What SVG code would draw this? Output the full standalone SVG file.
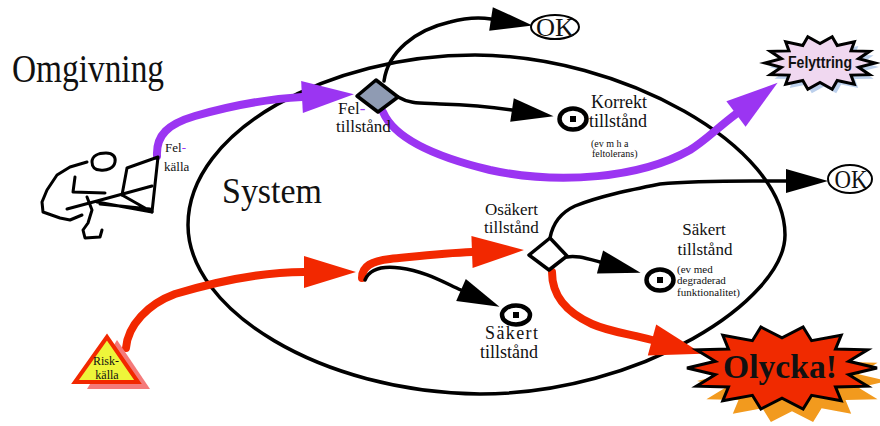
<svg xmlns="http://www.w3.org/2000/svg" width="880" height="426" viewBox="0 0 880 426">
  <style>
    .serif { font-family: "Liberation Serif", "Times New Roman", serif; fill: #111; }
    .sans { font-family: "Liberation Sans", Arial, sans-serif; fill: #111; }
    .line { fill: none; stroke: #000; stroke-width: 3.5; stroke-linecap: round; stroke-linejoin: round; }
    .purple { fill: none; stroke: #9b35f2; stroke-width: 8; stroke-linecap: round; stroke-linejoin: round; }
    .red { fill: none; stroke: #f22800; stroke-width: 8; stroke-linecap: round; stroke-linejoin: round; }
    .ring { fill: #fff; stroke: #000; stroke-width: 4.5; }
    .fig { fill: none; stroke: #000; stroke-width: 3; stroke-linecap: round; stroke-linejoin: round; }
    .ok { fill: #fff; stroke: #000; stroke-width: 2; }
    .burst { stroke: #000; stroke-width: 3; stroke-linejoin: miter; }
  </style>
  <defs>
    <marker id="arrBlack" markerUnits="userSpaceOnUse" markerWidth="44" markerHeight="26" refX="0" refY="12" orient="auto" overflow="visible">
      <path d="M0,0 L42,12 L0,24 z" fill="#000"/>
    </marker>
    <marker id="arrPurple" markerUnits="userSpaceOnUse" markerWidth="54" markerHeight="34" refX="0" refY="16" orient="auto" overflow="visible">
      <path d="M0,0 L52,16 L0,32 z" fill="#9b35f2"/>
    </marker>
    <marker id="arrRed" markerUnits="userSpaceOnUse" markerWidth="54" markerHeight="34" refX="0" refY="16" orient="auto" overflow="visible">
      <path d="M0,0 L52,16 L0,32 z" fill="#f22800"/>
    </marker>
  </defs>

  <rect width="880" height="426" fill="#fff"/>

  <!-- environment and system boundary -->
  <text id="omgivning" class="serif" x="12" y="82" font-size="40" textLength="152" lengthAdjust="spacingAndGlyphs">Omgivning</text>
  <g id="system">
    <path d="M475,55 C620,55 785,145 785,235 C785,300 640,394 480,394 C320,392 188,310 188,225 C188,130 330,55 475,55 Z" fill="none" stroke="#000" stroke-width="3.5"/>
    <text class="serif" x="222" y="203" font-size="35" textLength="100" lengthAdjust="spacingAndGlyphs">System</text>
  </g>

  <!-- connectors -->
  <g id="connectors">
    <path class="purple" d="M157,156 C156,135 168,124 195,116 C230,106 265,99 302,97" marker-end="url(#arrPurple)"/>
    <path class="purple" d="M383,112 C395,140 440,158 490,170 C560,185 640,178 690,150 C705,141 716,129 736,114" marker-end="url(#arrPurple)"/>
    <path class="line" d="M384,81 C388,52 415,30 450,22 C465,18 478,17 491,19" marker-end="url(#arrBlack)"/>
    <path class="line" d="M398,97 C410,104 420,103 440,104 C470,105 492,107 512,110" marker-end="url(#arrBlack)"/>
    <path class="red" d="M126,348 C128,325 148,304 175,294 C215,282 260,272 304,272" marker-end="url(#arrRed)"/>
    <path class="red" d="M362,278 C362,266 372,261 390,259 C420,256 445,253 472,252" marker-end="url(#arrRed)"/>
    <path class="line" d="M365,280 C370,268 385,266 400,268 C425,271 445,283 461,290" marker-end="url(#arrBlack)"/>
    <path class="line" d="M550,238 C553,222 562,212 575,206 C600,196 630,190 660,184 C700,180 740,181 786,181" marker-end="url(#arrBlack)"/>
    <path class="line" d="M567,257 C575,255 585,258 600,262" marker-end="url(#arrBlack)"/>
    <path class="red" d="M552,272 C552,296 566,312 592,324 C610,332 630,334 652,340" marker-end="url(#arrRed)"/>
  </g>

  <!-- error source: person at a computer -->
  <g id="felkalla">
    <path class="fig" d="M92,162 C92,156 98,153 106,153 C113,153 116,157 115,162 C114,168 107,171 100,170 C95,170 92,167 92,162 Z"/>
    <path class="fig" d="M87,162 L70,167 L57,175 L47,190 L42,202 L43,212 L60,218 L70,220 L82,215"/>
    <path class="fig" d="M75,177 L73,192 L105,193"/>
    <path class="fig" d="M67,209 L97,201 L152,186"/>
    <path class="fig" d="M127,168 L158,157 L152,212 M127,168 L122,195"/>
    <path class="fig" d="M97,202 L152,212 M122,195 L152,212 M100,204 L150,209"/>
    <path class="fig" d="M87,197 L92,210 L88,223 L83,230 L85,238 L100,237 L102,230"/>
    <text class="serif" x="165" y="152" font-size="13">Fel<tspan fill="#9b35f2">-</tspan></text>
    <text class="serif" x="164" y="171" font-size="13">källa</text>
  </g>

  <!-- hazard source -->
  <g id="riskkalla">
    <polygon points="117,340 87,389 150,389" fill="#f47a7a"/>
    <polygon points="107,337 75,382 138,382" fill="#eef53a" stroke="#f22800" stroke-width="4"/>
    <text class="serif" x="106" y="365" font-size="12" text-anchor="middle">Risk-</text>
    <text class="serif" x="107" y="379" font-size="12" text-anchor="middle">källa</text>
  </g>

  <!-- faulty state -->
  <g id="feltillstand">
    <polygon points="357,96 376,80 398,97 378,112" fill="#8f9bb3" stroke="#000" stroke-width="3.5" stroke-linejoin="round"/>
    <text class="serif" x="338" y="114" font-size="17">Fel<tspan fill="#9b35f2">-</tspan></text>
    <text class="serif" x="336" y="132" font-size="17">tillstånd</text>
  </g>

  <!-- correct state -->
  <g id="korrekt">
    <ellipse class="ring" cx="573" cy="119" rx="13.5" ry="10.5"/>
    <rect x="570" y="116" width="6" height="6" fill="#000"/>
    <text class="serif" x="591" y="108" font-size="18">Korrekt</text>
    <text class="serif" x="589" y="127" font-size="18">tillstånd</text>
    <text class="serif" x="591" y="147" font-size="10">(ev m h a</text>
    <text class="serif" x="592" y="157" font-size="10">feltolerans)</text>
  </g>

  <!-- unsafe state -->
  <g id="osakert">
    <polygon points="529,255 550,238 567,256 549,270" fill="#fff" stroke="#000" stroke-width="3.5" stroke-linejoin="round"/>
    <text class="serif" x="485" y="215" font-size="17">Osäkert</text>
    <text class="serif" x="484" y="233" font-size="17">tillstånd</text>
  </g>

  <!-- safe state (degraded) -->
  <g id="sakert-degraderat">
    <ellipse class="ring" cx="660" cy="280" rx="13.5" ry="10.5"/>
    <rect x="657" y="277" width="6" height="6" fill="#000"/>
    <text class="serif" x="704" y="235" font-size="17" text-anchor="middle">Säkert</text>
    <text class="serif" x="705" y="255" font-size="17" text-anchor="middle">tillstånd</text>
    <text class="serif" x="677" y="273" font-size="11">(ev med</text>
    <text class="serif" x="677" y="284" font-size="11">degraderad</text>
    <text class="serif" x="677" y="296" font-size="11">funktionalitet)</text>
  </g>

  <!-- safe state -->
  <g id="sakert">
    <ellipse class="ring" cx="516" cy="315" rx="14" ry="9.5"/>
    <rect x="513" y="312" width="6" height="6" fill="#000"/>
    <text class="serif" x="485" y="339" font-size="18" textLength="53" lengthAdjust="spacing">Säkert</text>
    <text class="serif" x="480" y="358" font-size="18">tillstånd</text>
  </g>

  <!-- OK outcomes -->
  <g id="ok-top">
    <ellipse class="ok" cx="555" cy="27" rx="24" ry="12"/>
    <text class="serif" x="555" y="36" font-size="25" text-anchor="middle" textLength="38" lengthAdjust="spacingAndGlyphs">OK</text>
  </g>
  <g id="ok-right">
    <ellipse class="ok" cx="850" cy="179" rx="22" ry="14"/>
    <text class="serif" x="851" y="188" font-size="25" text-anchor="middle" textLength="33" lengthAdjust="spacingAndGlyphs">OK</text>
  </g>

  <!-- failure outcome -->
  <g id="felyttring">
    <polygon transform="translate(4,4)" fill="#bcd0ec" points="875,63 858.6,67.3 869.6,74.7 851,75.1 854.3,84.1 837.2,80.5 832.2,89.3 820,82.4 807.8,89.3 802.8,80.5 785.7,84.1 789,75.1 770.4,74.7 781.4,67.3 765,63 781.4,58.7 770.4,51.3 789,50.9 785.7,41.9 802.8,45.5 807.8,36.7 820,43.6 832.2,36.7 837.2,45.5 854.3,41.9 851,50.9 869.6,51.3 858.6,58.7"/>
    <polygon class="burst" fill="#f0d8f0" points="875,63 858.6,67.3 869.6,74.7 851,75.1 854.3,84.1 837.2,80.5 832.2,89.3 820,82.4 807.8,89.3 802.8,80.5 785.7,84.1 789,75.1 770.4,74.7 781.4,67.3 765,63 781.4,58.7 770.4,51.3 789,50.9 785.7,41.9 802.8,45.5 807.8,36.7 820,43.6 832.2,36.7 837.2,45.5 854.3,41.9 851,50.9 869.6,51.3 858.6,58.7"/>
    <text class="sans" x="820" y="68" font-size="17" font-weight="bold" text-anchor="middle" textLength="64" lengthAdjust="spacingAndGlyphs">Felyttring</text>
  </g>

  <!-- accident outcome -->
  <g id="olycka">
    <polygon transform="translate(10,13)" fill="#f29a1e" points="877,368 848.7,374.7 867.6,386.2 835.5,386.9 841.2,400.8 811.6,395.3 803.1,409 782,398.2 760.9,409 752.4,395.3 722.8,400.8 728.5,386.9 696.4,386.2 715.3,374.7 687,368 715.3,361.3 696.4,349.8 728.5,349.1 722.8,335.2 752.4,340.7 760.9,327 782,337.8 803.1,327 811.6,340.7 841.2,335.2 835.5,349.1 867.6,349.8 848.7,361.3"/>
    <polygon class="burst" fill="#f02a00" points="877,368 848.7,374.7 867.6,386.2 835.5,386.9 841.2,400.8 811.6,395.3 803.1,409 782,398.2 760.9,409 752.4,395.3 722.8,400.8 728.5,386.9 696.4,386.2 715.3,374.7 687,368 715.3,361.3 696.4,349.8 728.5,349.1 722.8,335.2 752.4,340.7 760.9,327 782,337.8 803.1,327 811.6,340.7 841.2,335.2 835.5,349.1 867.6,349.8 848.7,361.3"/>
    <text class="serif" x="780" y="378" font-size="34" font-weight="bold" text-anchor="middle" textLength="114" lengthAdjust="spacingAndGlyphs">Olycka!</text>
  </g>
</svg>
